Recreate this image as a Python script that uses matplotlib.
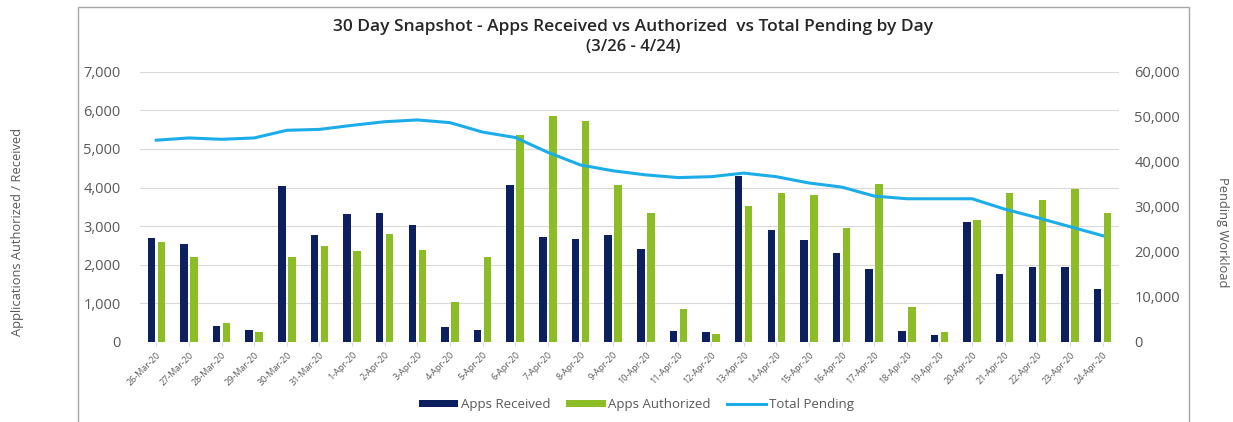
import matplotlib.pyplot as plt
import numpy as np
from matplotlib.patches import Rectangle
from matplotlib.ticker import FuncFormatter

days = ["26-Mar-20", "27-Mar-20", "28-Mar-20", "29-Mar-20", "30-Mar-20", "31-Mar-20",
        "1-Apr-20", "2-Apr-20", "3-Apr-20", "4-Apr-20", "5-Apr-20", "6-Apr-20",
        "7-Apr-20", "8-Apr-20", "9-Apr-20", "10-Apr-20", "11-Apr-20", "12-Apr-20",
        "13-Apr-20", "14-Apr-20", "15-Apr-20", "16-Apr-20", "17-Apr-20", "18-Apr-20",
        "19-Apr-20", "20-Apr-20", "21-Apr-20", "22-Apr-20", "23-Apr-20", "24-Apr-20"]

apps_received = [2700, 2540, 405, 320, 4030, 2775, 3310, 3340, 3040, 400, 300, 4070,
                 2720, 2655, 2775, 2415, 290, 260, 4300, 2890, 2650, 2300, 1890, 290,
                 180, 3120, 1760, 1940, 1940, 1360]

apps_authorized = [2600, 2200, 480, 270, 2200, 2490, 2360, 2810, 2390, 1025, 2200, 5370,
                   5860, 5715, 4060, 3350, 860, 215, 3510, 3870, 3800, 2960, 4090, 900,
                   270, 3150, 3870, 3690, 3950, 3330]

total_pending = [44800, 45300, 45000, 45300, 47000, 47200, 48100, 48900, 49300, 48700,
                 46600, 45400, 42100, 39300, 38000, 37100, 36500, 36700, 37500, 36700,
                 35300, 34400, 32400, 31800, 31800, 31800, 29500, 27600, 25600, 23600]

NAVY = "#0c1f5e"
GREEN = "#8cbd26"
BLUE = "#1cade8"
GRAY = "#595959"
FONT = "Open Sans"

plt.rcParams["font.family"] = [FONT, "DejaVu Sans"]

fig = plt.figure(figsize=(12.33, 4.22), dpi=100)
ax = fig.add_axes([0.1135, 0.1896, 0.794, 0.6404])
ax2 = ax.twinx()

# chart frame like the Excel chart area
fig.patches.append(Rectangle((78 / 1233, -0.01), (1189 - 78) / 1233, 1 - 7 / 422 + 0.01,
                             transform=fig.transFigure, fill=False,
                             edgecolor="#a6a6a6", linewidth=1.0, zorder=0))

x = np.arange(len(days))
w = 0.23
ax.bar(x - 0.153, apps_received, w, color=NAVY, label="Apps Received", zorder=2)
ax.bar(x + 0.153, apps_authorized, w, color=GREEN, label="Apps Authorized", zorder=2)
ax2.plot(x, total_pending, color=BLUE, linewidth=2.2, label="Total Pending", zorder=3)

ax.set_xlim(-0.5, len(days) - 0.5)
ax.set_ylim(0, 7000)
ax2.set_ylim(0, 60000)
ax.set_yticks(range(0, 7001, 1000))
ax2.set_yticks(range(0, 60001, 10000))
fmt = FuncFormatter(lambda v, p: f"{int(v):,}")
ax.yaxis.set_major_formatter(fmt)
ax2.yaxis.set_major_formatter(fmt)

ax.grid(axis="y", color="#d9d9d9", linewidth=0.8, zorder=0)
ax.set_axisbelow(True)
for a in (ax, ax2):
    for s in ("top", "right", "left", "bottom"):
        a.spines[s].set_visible(False)
ax.axhline(0, color="#d9d9d9", linewidth=0.8, zorder=1)

ax.set_xticks(x)
ax.set_xticklabels(days, rotation=45, ha="right", rotation_mode="anchor",
                   fontsize=6.5, color=GRAY)
ax.tick_params(axis="x", length=3, color="#d9d9d9", pad=3)
ax.tick_params(axis="y", length=0, labelsize=10.5, labelcolor=GRAY, pad=14)
ax2.tick_params(axis="y", length=0, labelsize=10.5, labelcolor=GRAY, pad=11)

fig.text(0.5135, 0.936, "30 Day Snapshot - Apps Received vs Authorized  vs Total Pending by Day",
         ha="center", va="center", fontsize=12.5, fontweight="semibold", color="#262626")
fig.text(0.5135, 0.888, "(3/26 - 4/24)", ha="center", va="center",
         fontsize=12, fontweight="semibold", color="#262626")

fig.text(18 / 1233, 0.45, "Applications Authorized / Received", rotation=90,
         ha="center", va="center", fontsize=9.3, color=GRAY)
fig.text(1222 / 1233, 0.45, "Pending Workload", rotation=-90,
         ha="center", va="center", fontsize=9.3, color=GRAY)

h1, l1 = ax.get_legend_handles_labels()
h2, l2 = ax2.get_legend_handles_labels()
fig.legend(h1 + h2, l1 + l2, loc="center", bbox_to_anchor=(0.516, 0.042), ncol=3,
           frameon=False, fontsize=9.5, labelcolor=GRAY, handlelength=3.0,
           handleheight=0.45, columnspacing=1.2, handletextpad=0.2)

fig.savefig("out.png", dpi=100)
